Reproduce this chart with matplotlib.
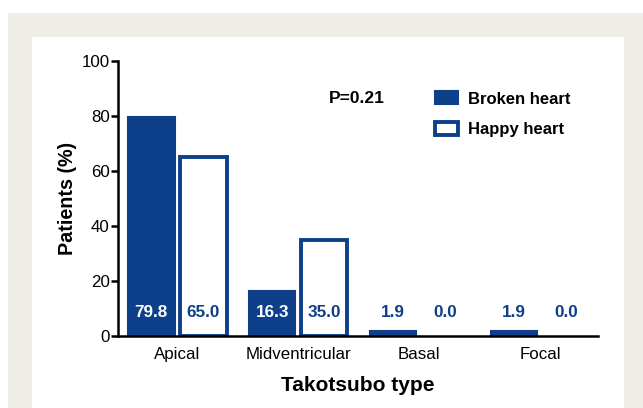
import matplotlib
matplotlib.use("Agg")
import matplotlib.pyplot as plt
from matplotlib.patches import Rectangle
import numpy as np

plt.rcParams['font.family'] = ['Liberation Sans', 'DejaVu Sans']

types = ["Apical", "Midventricular", "Basal", "Focal"]
broken = [79.8, 16.3, 1.9, 1.9]
happy = [65.0, 35.0, 0.0, 0.0]
p_text = "P=0.21"

blue = "#0D3F8A"
beige = "#EEEEE6"
W, H = 643, 408

fig = plt.figure(figsize=(W / 100, H / 100), dpi=100)
fig.patch.set_facecolor("white")
# framed panel background
fig.patches.append(Rectangle((8 / W, 0), 1 - 8 / W, 1 - 13 / H, transform=fig.transFigure,
                             facecolor=beige, edgecolor="none", zorder=-3))
fig.patches.append(Rectangle((32 / W, 0), (624 - 32) / W, 1 - 37 / H, transform=fig.transFigure,
                             facecolor="white", edgecolor="none", zorder=-2))

ax = fig.add_axes([118 / W, 1 - 336 / H, (598 - 118) / W, (336 - 61) / H])
ax.set_facecolor("none")

x = np.arange(len(types))
w = 0.385
off = 0.215
ax.bar(x - off, broken, w, color=blue, edgecolor=blue, linewidth=1.5, label="Broken heart")
hb = ax.bar(x + off, happy, w, color="white", edgecolor=blue, linewidth=2.8, label="Happy heart")
for b, v in zip(hb, happy):
    if v == 0:
        b.set_visible(False)

for i in range(len(types)):
    ax.text(x[i] - off, 8.7, f"{broken[i]:.1f}",
            color="white" if broken[i] > 10 else blue,
            ha="center", va="center", fontsize=12.3, fontweight="bold")
    ax.text(x[i] + off, 8.7, f"{happy[i]:.1f}", color=blue,
            ha="center", va="center", fontsize=12.3, fontweight="bold")

ax.set_xlim(-0.49, 3.48)
ax.set_ylim(0, 100)
ax.set_yticks([0, 20, 40, 60, 80, 100])
ax.set_xticks(x)
ax.set_xticklabels(types)
ax.tick_params(axis="y", length=5, width=1.8, labelsize=12.2, pad=1)
ax.tick_params(axis="x", length=0, labelsize=12.2, pad=8)
for s in ["top", "right"]:
    ax.spines[s].set_visible(False)
for s in ["left", "bottom"]:
    ax.spines[s].set_linewidth(1.8)

ax.set_ylabel("Patients (%)", fontsize=14.2, fontweight="bold", labelpad=3)
ax.set_xlabel("Takotsubo type", fontsize=15, fontweight="bold", labelpad=10)

ax.text(1.485, 86.5, p_text, ha="center", va="center", fontsize=12.5, fontweight="bold")
ax.legend(loc="upper left", bbox_to_anchor=(0.63, 0.945), frameon=False,
          prop={"size": 12, "weight": "bold"}, handlelength=1.35, handleheight=0.85,
          handletextpad=0.6, labelspacing=0.9)

fig.savefig("out.png", dpi=100)
